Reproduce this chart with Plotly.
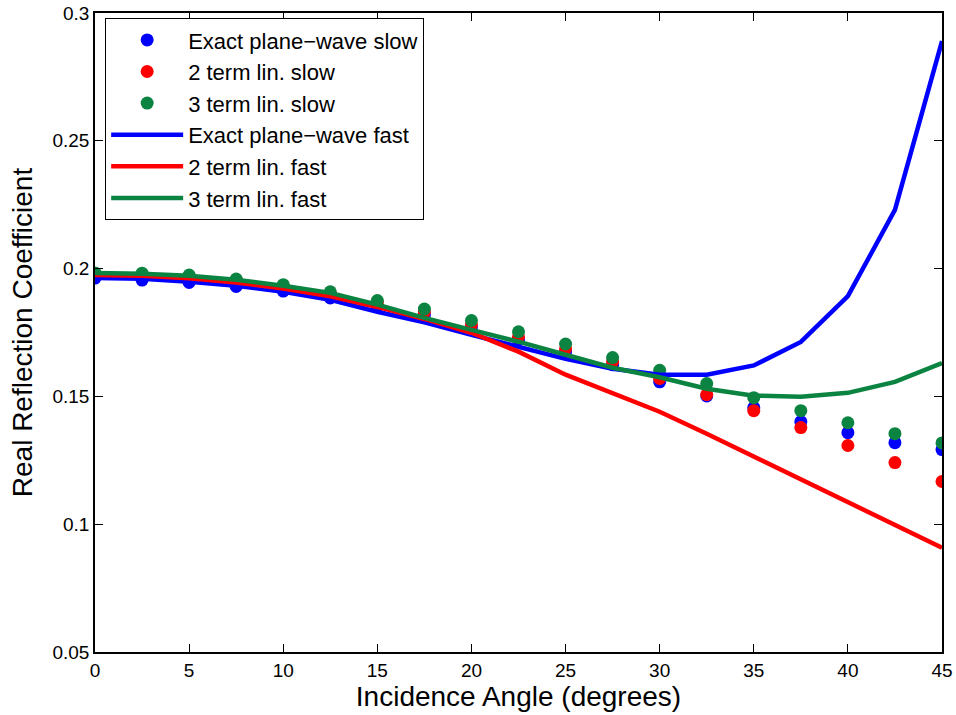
import plotly.graph_objects as go

angles = [0, 2.5, 5, 7.5, 10, 12.5, 15, 17.5, 20, 22.5, 25, 27.5, 30, 32.5, 35, 37.5, 40, 42.5, 45]

exact_slow = [0.1963, 0.1955, 0.1946, 0.1930, 0.1912, 0.1885, 0.1852, 0.1818, 0.1772, 0.1722, 0.1675, 0.1624, 0.1557, 0.1502, 0.1456, 0.1401, 0.1358, 0.1319, 0.1292]
lin2_slow = [0.1980, 0.1977, 0.1970, 0.1955, 0.1932, 0.1905, 0.1868, 0.1830, 0.1780, 0.1733, 0.1686, 0.1636, 0.1570, 0.1507, 0.1444, 0.1378, 0.1308, 0.1241, 0.1167]
lin3_slow = [0.1983, 0.1982, 0.1975, 0.1959, 0.1937, 0.1909, 0.1875, 0.1842, 0.1797, 0.1753, 0.1705, 0.1652, 0.1602, 0.1550, 0.1495, 0.1444, 0.1397, 0.1354, 0.1318]

exact_fast = [0.1963, 0.1960, 0.1949, 0.1933, 0.1909, 0.1878, 0.1831, 0.1790, 0.1741, 0.1694, 0.1647, 0.1608, 0.1585, 0.1585, 0.1621, 0.1713, 0.1892, 0.2230, 0.2890]
lin2_fast = [0.1975, 0.1972, 0.1962, 0.1946, 0.1922, 0.1892, 0.1850, 0.1803, 0.1749, 0.1675, 0.1585, 0.1514, 0.1440, 0.1354, 0.1264, 0.1174, 0.1084, 0.0994, 0.0908]
lin3_fast = [0.1983, 0.1980, 0.1972, 0.1956, 0.1933, 0.1905, 0.1859, 0.1807, 0.1760, 0.1714, 0.1663, 0.1612, 0.1575, 0.1530, 0.1503, 0.1499, 0.1514, 0.1557, 0.1630]

x_ticks = [0, 5, 10, 15, 20, 25, 30, 35, 40, 45]
y_ticks = [0.05, 0.1, 0.15, 0.2, 0.25, 0.3]
y_tick_labels = ["0.05", "0.1", "0.15", "0.2", "0.25", "0.3"]

BLUE = "#0000FF"
RED = "#FF0000"
GREEN = "#0B8442"
FONT = "Liberation Sans, Arial, sans-serif"

fig = go.Figure()
for name, vals, col in [("Exact plane\u2212wave slow", exact_slow, BLUE),
                        ("2 term lin. slow", lin2_slow, RED),
                        ("3 term lin. slow", lin3_slow, GREEN)]:
    fig.add_trace(go.Scatter(x=angles, y=vals, mode="markers", name=name,
                             marker=dict(color=col, size=13, line=dict(width=0))))
for name, vals, col in [("Exact plane\u2212wave fast", exact_fast, BLUE),
                        ("2 term lin. fast", lin2_fast, RED),
                        ("3 term lin. fast", lin3_fast, GREEN)]:
    fig.add_trace(go.Scatter(x=angles, y=vals, mode="lines", name=name,
                             line=dict(color=col, width=4.5)))

axis_common = dict(showgrid=False, zeroline=False, showline=True, linecolor="black",
                   linewidth=1.5, mirror="ticks", ticks="inside", ticklen=8,
                   tickcolor="black", tickwidth=1, automargin=False,
                   tickfont=dict(family=FONT, size=19, color="black"))

fig.update_xaxes(range=[0, 45], tickvals=x_ticks, ticktext=[str(t) for t in x_ticks],
                 title=dict(text="Incidence Angle (degrees)", font=dict(family=FONT, size=28, color="black"),
                            standoff=4),
                 **axis_common)
fig.update_yaxes(range=[0.05, 0.3], tickvals=y_ticks, ticktext=y_tick_labels,
                 title=dict(text="Real Reflection Coefficient", font=dict(family=FONT, size=28, color="black"),
                            standoff=12),
                 **axis_common)

fig.update_layout(
    width=956, height=715,
    margin=dict(l=95, r=14, t=13, b=63),
    paper_bgcolor="white", plot_bgcolor="white",
    legend=dict(x=0.012, y=0.992, xanchor="left", yanchor="top",
                bgcolor="white", bordercolor="black", borderwidth=1,
                font=dict(family=FONT, size=22, color="black"),
                itemwidth=72, tracegroupgap=0),
    showlegend=True,
)

fig.write_html("out.html")
